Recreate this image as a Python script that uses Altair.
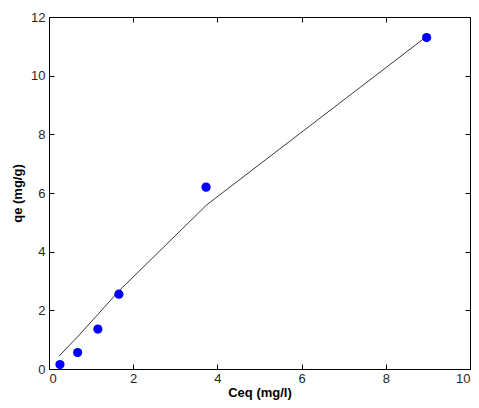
import altair as alt
import pandas as pd

# measured data (points)
ceq_pts = [0.26, 0.68, 1.16, 1.66, 3.73, 8.97]
qe_pts = [0.15, 0.56, 1.36, 2.55, 6.20, 11.30]

# model curve (line)
ceq_fit = [0.24, 0.68, 1.16, 1.66, 3.75, 8.90]
qe_fit = [0.44, 1.10, 1.86, 2.66, 5.60, 11.26]

x_ticks = [0, 2, 4, 6, 8, 10]
y_ticks = [0, 2, 4, 6, 8, 10, 12]

df_pts = pd.DataFrame({"ceq": ceq_pts, "qe": qe_pts})
df_fit = pd.DataFrame({"ceq": ceq_fit, "qe": qe_fit})

xs = alt.Scale(domain=[0, 10], nice=False, zero=False)
ys = alt.Scale(domain=[0, 12], nice=False, zero=False)

FONT = "Liberation Sans"
common = dict(grid=False, domain=False, offset=-5, tickSize=5, tickColor="black",
              tickWidth=1, labelFont=FONT, labelFontSize=13, labelColor="#262626",
              titleFont=FONT, titleFontSize=13, titleFontWeight="bold", titleColor="black")

bottom_axis = alt.Axis(orient="bottom", values=x_ticks, title="Ceq (mg/l)", labelPadding=3,
                       titlePadding=1, **common)
left_axis = alt.Axis(orient="left", values=y_ticks, title="qe (mg/g)", labelPadding=4,
                     titlePadding=6, **common)
top_axis = alt.Axis(orient="top", values=x_ticks, labels=False, title=None, grid=False,
                    domain=False, offset=-5, tickSize=5, tickColor="black")
right_axis = alt.Axis(orient="right", values=y_ticks, labels=False, title=None, grid=False,
                      domain=False, offset=-5, tickSize=5, tickColor="black")

line = alt.Chart(df_fit).mark_line(color="#222222", strokeWidth=0.9).encode(
    x=alt.X("ceq:Q", scale=xs, axis=top_axis),
    y=alt.Y("qe:Q", scale=ys, axis=right_axis),
)

points = alt.Chart(df_pts).mark_circle(size=85, color="#0000ff", opacity=1).encode(
    x=alt.X("ceq:Q", scale=xs, axis=bottom_axis),
    y=alt.Y("qe:Q", scale=ys, axis=left_axis),
)

chart = alt.layer(line, points).resolve_axis(x="independent", y="independent").properties(
    width=421, height=352,
    padding={"left": 41, "top": 9, "right": 1, "bottom": 31},
    autosize=alt.AutoSizeParams(type="none"),
    background="white",
).configure_view(stroke="black", strokeWidth=1)

chart.save("out.html", embed_options={"renderer": "svg", "actions": False})
